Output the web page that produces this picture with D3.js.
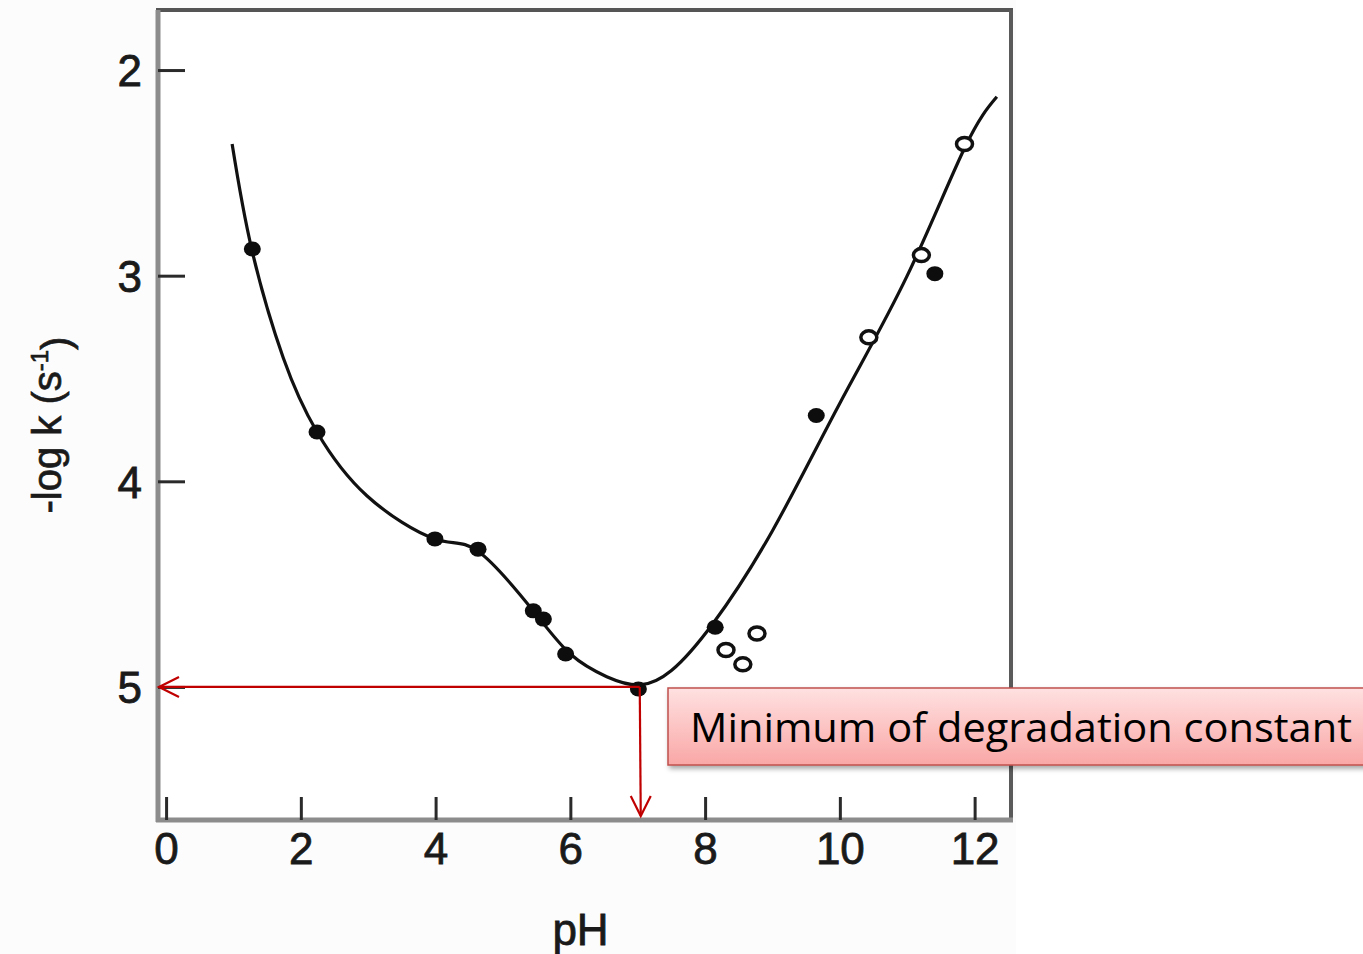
<!DOCTYPE html>
<html>
<head>
<meta charset="utf-8">
<script src="https://cdn.jsdelivr.net/npm/d3@7"></script>
<style>
  html, body { margin: 0; padding: 0; background: #ffffff; }
  svg { display: block; }
</style>
</head>
<body>
<svg id="chart" width="1363" height="954"></svg>
<script>
// pH-rate profile: -log k versus pH

// Fitted curve, traced as (pH, -log k) pairs
const curvePH   = [0.98, 1.27, 1.74, 2.24, 2.98, 3.99, 4.63, 5.45, 6.00, 6.54, 7.03, 7.50, 8.12, 9.00, 10.00, 11.00, 11.85, 12.33];
const curveLogK = [2.36, 2.87, 3.40, 3.76, 4.07, 4.28, 4.34, 4.63, 4.84, 4.95, 4.99, 4.92, 4.69, 4.24, 3.62, 3.00, 2.38, 2.13];

// Measured points, filled markers
const filledPH   = [1.28, 2.24, 3.99, 4.63, 5.45, 5.60, 5.93, 7.01, 8.15, 9.65, 11.41];
const filledLogK = [2.87, 3.76, 4.28, 4.33, 4.63, 4.67, 4.84, 5.01, 4.71, 3.68, 2.99];

// Measured points, open markers
const openPH   = [8.31, 8.56, 8.77, 10.43, 11.21, 11.85];
const openLogK = [4.82, 4.89, 4.74, 3.30, 2.90, 2.36];

// Axis ticks
const xTicks = [0, 2, 4, 6, 8, 10, 12];
const yTicks = [2, 3, 4, 5];

// Minimum of the profile, marked with arrows
const minimumPH = 7.03;
const minimumLogK = 5.0;
const annotationText = "Minimum of degradation constant";

const svg = d3.select("#chart");

// Plot frame
const frame = { left: 158, right: 1011, top: 10, bottom: 820 };

const x = d3.scaleLinear().domain([-0.12, 12.54]).range([frame.left, frame.right]);
const y = d3.scaleLinear().domain([1.708, 5.647]).range([frame.top, frame.bottom]);

// Light backdrop behind the figure
svg.append("rect")
  .attr("x", 0).attr("y", 0).attr("width", 1016).attr("height", 954)
  .attr("fill", "#fcfcfc");

const defs = svg.append("defs");
const grad = defs.append("linearGradient")
  .attr("id", "boxFill").attr("x1", 0).attr("y1", 0).attr("x2", 0).attr("y2", 1);
grad.append("stop").attr("offset", "0%").attr("stop-color", "#ffe1e1");
grad.append("stop").attr("offset", "100%").attr("stop-color", "#f9a7a6");

const shadow = defs.append("filter").attr("id", "boxShadow")
  .attr("x", "-5%").attr("y", "-20%").attr("width", "115%").attr("height", "160%");
shadow.append("feDropShadow")
  .attr("dx", 2).attr("dy", 3).attr("stdDeviation", 2.5)
  .attr("flood-color", "#000").attr("flood-opacity", 0.35);

// Frame: gray left/bottom, darker top/right
svg.append("rect")
  .attr("x", frame.left).attr("y", frame.top)
  .attr("width", frame.right - frame.left).attr("height", frame.bottom - frame.top)
  .attr("fill", "#ffffff").attr("stroke", "none");
svg.append("line")
  .attr("x1", frame.left - 2).attr("x2", frame.right + 2)
  .attr("y1", frame.top).attr("y2", frame.top)
  .attr("stroke", "#555").attr("stroke-width", 4);
svg.append("line")
  .attr("x1", frame.right).attr("x2", frame.right)
  .attr("y1", frame.top).attr("y2", frame.bottom)
  .attr("stroke", "#5a5a5a").attr("stroke-width", 4);
svg.append("line")
  .attr("x1", frame.left).attr("x2", frame.left)
  .attr("y1", frame.top).attr("y2", frame.bottom + 2)
  .attr("stroke", "#8c8c8c").attr("stroke-width", 5);
svg.append("line")
  .attr("x1", frame.left - 2).attr("x2", frame.right + 2)
  .attr("y1", frame.bottom).attr("y2", frame.bottom)
  .attr("stroke", "#8c8c8c").attr("stroke-width", 5);

// Axes with inward ticks
const fontFamily = "'Liberation Sans', Arial, Helvetica, sans-serif";

const xAxis = d3.axisBottom(x).tickValues(xTicks).tickSize(-23).tickPadding(12).tickFormat(d3.format("d"));
const gx = svg.append("g").attr("transform", `translate(0,${frame.bottom})`).call(xAxis);
gx.select(".domain").remove();
gx.selectAll(".tick line").attr("stroke", "#2a2a2a").attr("stroke-width", 3);
gx.selectAll(".tick text")
  .attr("font-family", fontFamily).attr("font-size", 44).attr("fill", "#1a1a1a")
  .attr("stroke", "#1a1a1a").attr("stroke-width", 0.8)
  .attr("dy", "0.72em").attr("y", 12);

const yAxis = d3.axisLeft(y).tickValues(yTicks).tickSize(-27).tickPadding(16).tickFormat(d3.format("d"));
const gy = svg.append("g").attr("transform", `translate(${frame.left},0)`).call(yAxis);
gy.select(".domain").remove();
gy.selectAll(".tick line").attr("stroke", "#2a2a2a").attr("stroke-width", 3);
gy.selectAll(".tick text")
  .attr("font-family", fontFamily).attr("font-size", 44).attr("fill", "#1a1a1a")
  .attr("stroke", "#1a1a1a").attr("stroke-width", 0.8)
  .attr("dy", "0.36em");

// Axis titles
svg.append("text")
  .attr("x", (frame.left + frame.right) / 2 - 4).attr("y", 945)
  .attr("text-anchor", "middle")
  .attr("font-family", fontFamily).attr("font-size", 44).attr("fill", "#1a1a1a")
  .attr("stroke", "#1a1a1a").attr("stroke-width", 0.8)
  .text("pH");

const yTitle = svg.append("text")
  .attr("transform", "translate(61,425) rotate(-90)")
  .attr("text-anchor", "middle")
  .attr("font-family", fontFamily).attr("font-size", 40).attr("fill", "#1a1a1a")
  .attr("stroke", "#1a1a1a").attr("stroke-width", 0.7);
yTitle.append("tspan").text("-log k (s");
yTitle.append("tspan").attr("dy", "-0.55em").attr("font-size", 24).text("-1");
yTitle.append("tspan").attr("dy", "0.55em").text(")");

// Fitted curve
const curveData = curvePH.map((p, i) => [p, curveLogK[i]]);
const line = d3.line()
  .x(d => x(d[0]))
  .y(d => y(d[1]))
  .curve(d3.curveNatural);
svg.append("path")
  .datum(curveData)
  .attr("d", line)
  .attr("fill", "none")
  .attr("stroke", "#111")
  .attr("stroke-width", 3.2);

// Filled markers
svg.append("g").selectAll("ellipse")
  .data(filledPH.map((p, i) => [p, filledLogK[i]]))
  .join("ellipse")
  .attr("cx", d => x(d[0])).attr("cy", d => y(d[1]))
  .attr("rx", 8.5).attr("ry", 7.5)
  .attr("fill", "#0d0d0d");

// Open markers
svg.append("g").selectAll("ellipse")
  .data(openPH.map((p, i) => [p, openLogK[i]]))
  .join("ellipse")
  .attr("cx", d => x(d[0])).attr("cy", d => y(d[1]))
  .attr("rx", 8).attr("ry", 6.5)
  .attr("fill", "#ffffff")
  .attr("stroke", "#111")
  .attr("stroke-width", 3.5);

// Red arrows from the minimum to both axes
const red = "#c00000";
const mx = x(minimumPH), my = y(minimumLogK);
const arrows = svg.append("g").attr("stroke", red).attr("stroke-width", 2.2).attr("fill", "none");
arrows.append("line").attr("x1", mx).attr("y1", my).attr("x2", frame.left + 1).attr("y2", my);
arrows.append("path")
  .attr("d", `M${frame.left + 21},${my - 10} L${frame.left + 1},${my} L${frame.left + 21},${my + 10}`);
arrows.append("line").attr("x1", mx).attr("y1", my).attr("x2", mx + 1).attr("y2", frame.bottom - 4);
arrows.append("path")
  .attr("d", `M${mx - 9},${frame.bottom - 24} L${mx + 1},${frame.bottom - 4} L${mx + 11},${frame.bottom - 24}`);

// Annotation box
const box = { x: 668, y: 688, w: 720, h: 77 };
svg.append("rect")
  .attr("x", box.x).attr("y", box.y).attr("width", box.w).attr("height", box.h)
  .attr("fill", "url(#boxFill)")
  .attr("stroke", "#c0504d").attr("stroke-width", 1.5)
  .attr("filter", "url(#boxShadow)");
svg.append("text")
  .attr("x", 690).attr("y", 742)
  .attr("font-family", "'Open Sans', 'Noto Sans', sans-serif")
  .attr("font-size", 40)
  .attr("fill", "#000")
  .attr("textLength", 662)
  .attr("lengthAdjust", "spacingAndGlyphs")
  .text(annotationText);
</script>
</body>
</html>
